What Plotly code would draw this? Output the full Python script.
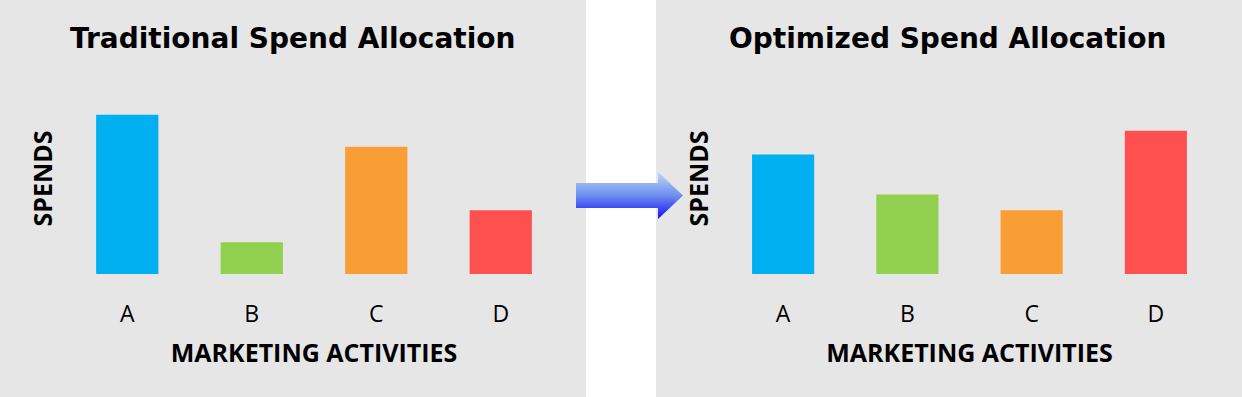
import plotly.graph_objects as go

categories = ["A", "B", "C", "D"]
traditional = [5, 1, 4, 2]
optimized = [3.75, 2.5, 2, 4.5]
bar_colors = ["#00B0F0", "#92D050", "#F99D35", "#FF5050"]
titles = ["Traditional Spend Allocation", "Optimized Spend Allocation"]
x_title = "MARKETING ACTIVITIES"
y_title = "SPENDS"

W, H = 1242, 397
FONT = "Open Sans"
TITLE_FONT = "DejaVu Sans"
GRAY = "#E6E6E6"

fig = go.Figure()
fig.add_trace(go.Bar(x=categories, y=traditional, marker=dict(color=bar_colors, line=dict(width=0)),
                     xaxis="x", yaxis="y", showlegend=False, hoverinfo="x+y"))
fig.add_trace(go.Bar(x=categories, y=optimized, marker=dict(color=bar_colors, line=dict(width=0)),
                     xaxis="x2", yaxis="y2", showlegend=False, hoverinfo="x+y"))

# decorative arrow (full-figure pixel axis)
ax_x = [576, 658, 658, 683, 658, 658, 576, 576]
ax_y = [183, 183, 172, 195.5, 219, 208, 208, 183]
fig.add_trace(go.Scatter(x=ax_x, y=ax_y, mode="lines", fill="toself",
                         line=dict(width=0, color="rgba(0,0,0,0)"),
                         fillgradient=dict(type="vertical",
                                           colorscale=[[0, "#1010F8"], [0.5, "#6F8EF0"], [1, "#BBD9F2"]]),
                         xaxis="x3", yaxis="y3", showlegend=False, hoverinfo="skip"))

def px_x(p):
    return p / W

def px_y(p):
    return 1 - p / H

ydom = [px_y(274), px_y(83)]
common_x = dict(showgrid=False, zeroline=False, showline=False, ticks="",
                tickfont=dict(family=FONT, size=23, color="#000"), ticklabelstandoff=24,
                title=dict(text=x_title, font=dict(family=FONT, size=25, color="#000", weight="bold"), standoff=16),
                fixedrange=True)
common_y = dict(showgrid=False, zeroline=False, showline=False, showticklabels=False, ticks="",
                range=[0, 6], domain=ydom, fixedrange=True,
                title=dict(text=y_title, font=dict(family=FONT, size=25, color="#000", weight="bold"), standoff=4))

fig.update_layout(
    width=W, height=H,
    margin=dict(l=0, r=0, t=0, b=0),
    paper_bgcolor="white", plot_bgcolor="rgba(0,0,0,0)",
    bargap=0.5,
    xaxis=dict(domain=[px_x(65), px_x(563)], anchor="y", **common_x),
    yaxis=dict(anchor="x", **common_y),
    xaxis2=dict(domain=[px_x(721), px_x(1218)], anchor="y2", **common_x),
    yaxis2=dict(anchor="x2", **common_y),
    xaxis3=dict(domain=[0, 1], range=[0, W], visible=False, anchor="y3", fixedrange=True),
    yaxis3=dict(domain=[0, 1], range=[H, 0], visible=False, anchor="x3", fixedrange=True),
    shapes=[
        dict(type="rect", xref="paper", yref="paper", x0=0, x1=px_x(586), y0=0, y1=1,
             fillcolor=GRAY, line=dict(width=0), layer="below"),
        dict(type="rect", xref="paper", yref="paper", x0=px_x(656), x1=1, y0=0, y1=1,
             fillcolor=GRAY, line=dict(width=0), layer="below"),
    ],
    annotations=[
        dict(text=titles[0], xref="paper", yref="paper", x=px_x(292), y=px_y(38),
             xanchor="center", yanchor="middle",
             showarrow=False, font=dict(family=TITLE_FONT, size=28, color="#000", weight="bold")),
        dict(text=titles[1], xref="paper", yref="paper", x=px_x(948), y=px_y(38),
             xanchor="center", yanchor="middle",
             showarrow=False, font=dict(family=TITLE_FONT, size=28, color="#000", weight="bold")),
    ],
)

fig.write_html("out.html", config=dict(displayModeBar=False),
               post_script="document.body.style.margin='0';document.body.style.padding='0';")
